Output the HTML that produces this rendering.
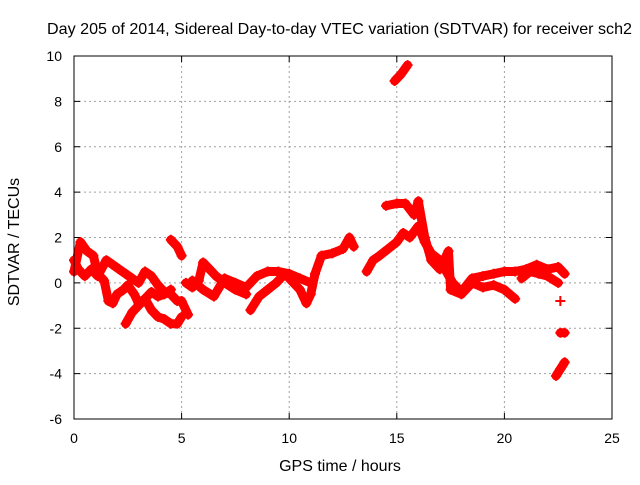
<!DOCTYPE html>
<html><head><meta charset="utf-8"><style>
body{margin:0;background:#fff;}
svg text{font-family:"Liberation Sans",sans-serif;font-size:14px;fill:#000;}
svg text.big{font-size:16px;}
</style></head><body>
<svg id="chart" width="640" height="480">
<rect width="640" height="480" fill="#fff"/>
<g id="grid"></g><g id="series"></g><g id="axes"></g>
</svg>
<script>
const xTicks=[0,5,10,15,20,25];
const yTicks=[-6,-4,-2,0,2,4,6,8,10];
const track1=[[0,0.5],[0.3,1.8],[0.6,1.4],[0.9,1.2],[1.1,0.4],[1.4,0.1],[1.6,-0.8],[1.8,-0.9],[2.0,-0.5],[2.3,-0.3],[2.5,-0.1],[2.8,-0.5],[3.0,-0.9],[3.3,-0.7],[3.6,-0.4],[3.9,-0.6],[4.2,-0.5],[4.5,-0.3]];
const track2=[[0,1.0],[0.2,0.6],[0.5,0.3],[0.8,0.6],[1.1,0.3],[1.5,1.0],[1.8,0.8],[2.1,0.6],[2.4,0.4],[2.7,0.2],[3.0,0.0],[3.3,0.5],[3.6,0.3],[3.9,-0.1],[4.2,-0.4],[4.5,-0.5],[4.8,-0.8],[5.0,-0.8],[5.3,-1.4]];
const track3=[[2.4,-1.8],[2.7,-1.3],[3.0,-1.0],[3.3,-0.7],[3.6,-1.2],[3.9,-1.5],[4.2,-1.6],[4.5,-1.8],[4.8,-1.8],[5.0,-1.5]];
const track4=[[4.5,1.9],[4.8,1.6],[5.0,1.2]];
const track5=[[5.2,0.0],[5.5,-0.2],[5.8,0.1],[6.0,0.9],[6.3,0.6],[6.6,0.3],[7.0,0.0],[7.5,-0.3],[8.0,-0.5]];
const track6=[[5.5,0.1],[6.0,-0.3],[6.5,-0.6],[7.0,0.2],[7.5,0.0],[8.0,-0.2],[8.5,0.3],[9.0,0.5],[9.5,0.5],[10.0,0.4],[10.5,0.2],[11.0,0.0]];
const track7=[[8.2,-1.2],[8.6,-0.6],[9.0,-0.3],[9.4,0.0],[9.8,0.4],[10.0,0.2],[10.5,-0.3],[10.8,-0.9],[11.0,-0.5],[11.2,0.4],[11.5,1.2],[12.0,1.3],[12.5,1.5],[12.8,2.0],[13.0,1.6]];
const track8=[[13.6,0.5],[13.9,1.0],[14.2,1.2],[14.6,1.5],[15.0,1.8],[15.3,2.2],[15.6,2.0],[16.0,2.5],[16.3,1.8],[16.6,1.3],[17.0,1.0],[17.3,0.5],[17.6,0.0],[18.0,-0.4],[18.5,0.2],[19.0,0.3],[19.5,0.4],[20.0,0.5],[20.5,0.5],[21.0,0.6],[21.5,0.8],[22.0,0.6],[22.5,0.7],[22.8,0.4]];
const track9=[[14.5,3.4],[15.0,3.5],[15.4,3.5],[15.8,3.0],[16.0,3.6],[16.3,2.0],[16.6,1.0],[17.0,0.6],[17.4,1.4],[17.5,-0.3],[18.0,-0.5],[18.5,0.0],[19.0,-0.2],[19.5,-0.1],[20.0,-0.3],[20.5,-0.7]];
const track10=[[20.8,0.2],[21.2,0.5],[21.6,0.4],[22.0,0.3],[22.5,0.0]];
const track11=[[14.9,8.9],[15.2,9.2],[15.5,9.6]];
const track12=[[22.6,-0.8]];
const track13=[[22.6,-2.2],[22.8,-2.2]];
const track14=[[22.4,-4.1],[22.6,-3.8],[22.8,-3.5]];
const tracks=[track1,track2,track3,track4,track5,track6,track7,track8,track9,track10,track11,track12,track13,track14];

const L=74,R=612,T=56,B=419;
const X=v=>L+(v-0)/25*(R-L);
const Y=v=>B-(v+6)/16*(B-T);
const NS="http://www.w3.org/2000/svg";
function mk(tag,attrs,parent){const e=document.createElementNS(NS,tag);for(const k in attrs)e.setAttribute(k,attrs[k]);parent.appendChild(e);return e;}
const grid=document.getElementById('grid'),axes=document.getElementById('axes'),ser=document.getElementById('series');
xTicks.forEach(t=>{
  if(t>0&&t<25){const g=mk('line',{x1:X(t),x2:X(t),y1:T,y2:B,stroke:'#a0a0a0','stroke-dasharray':'2,3'},grid);
  
  }
  mk('line',{x1:X(t),x2:X(t),y1:B,y2:B-6,stroke:'#000'},axes);
  mk('line',{x1:X(t),x2:X(t),y1:T,y2:T+6,stroke:'#000'},axes);
  const tx=mk('text',{x:X(t),y:B+24,'text-anchor':'middle'},axes);tx.textContent=t;
  
  
});
yTicks.forEach(t=>{
  if(t>-6&&t<10){const g=mk('line',{x1:L,x2:R,y1:Y(t),y2:Y(t),stroke:'#a0a0a0','stroke-dasharray':'2,3'},grid);
  
  }
  mk('line',{x1:L,x2:L+6,y1:Y(t),y2:Y(t),stroke:'#000'},axes);
  mk('line',{x1:R,x2:R-6,y1:Y(t),y2:Y(t),stroke:'#000'},axes);
  const tx=mk('text',{x:L-12,y:Y(t)+5,'text-anchor':'end'},axes);tx.textContent=t;
  
  
});
const fr=mk('rect',{x:L,y:T,width:R-L,height:B-T,fill:'none',stroke:'#000'},axes);


tracks.forEach(tr=>{
  const pl=mk('polyline',{points:tr.map(p=>X(p[0])+','+Y(p[1])).join(' '),fill:'none',stroke:'#f00','stroke-width':9,'stroke-linejoin':'round','stroke-linecap':'round'},ser);
  
  
  tr.forEach(p=>{
    const m=mk('path',{d:`M${X(p[0])-5},${Y(p[1])}h10M${X(p[0])},${Y(p[1])-5}v10`,stroke:'#f00','stroke-width':2},ser);
    
    
  });
});
const t1=mk('text',{x:47,y:34,'class':'big',textLength:585,lengthAdjust:'spacingAndGlyphs'},axes);t1.textContent='Day 205 of 2014, Sidereal Day-to-day VTEC variation (SDTVAR) for receiver sch2';


const t2=mk('text',{x:340,y:471,'text-anchor':'middle','class':'big'},axes);t2.textContent='GPS time / hours';


const t3=mk('text',{x:19,y:242,'text-anchor':'middle','class':'big',transform:'rotate(-90 19 242)'},axes);t3.textContent='SDTVAR / TECUs';


</script>
</body></html>
